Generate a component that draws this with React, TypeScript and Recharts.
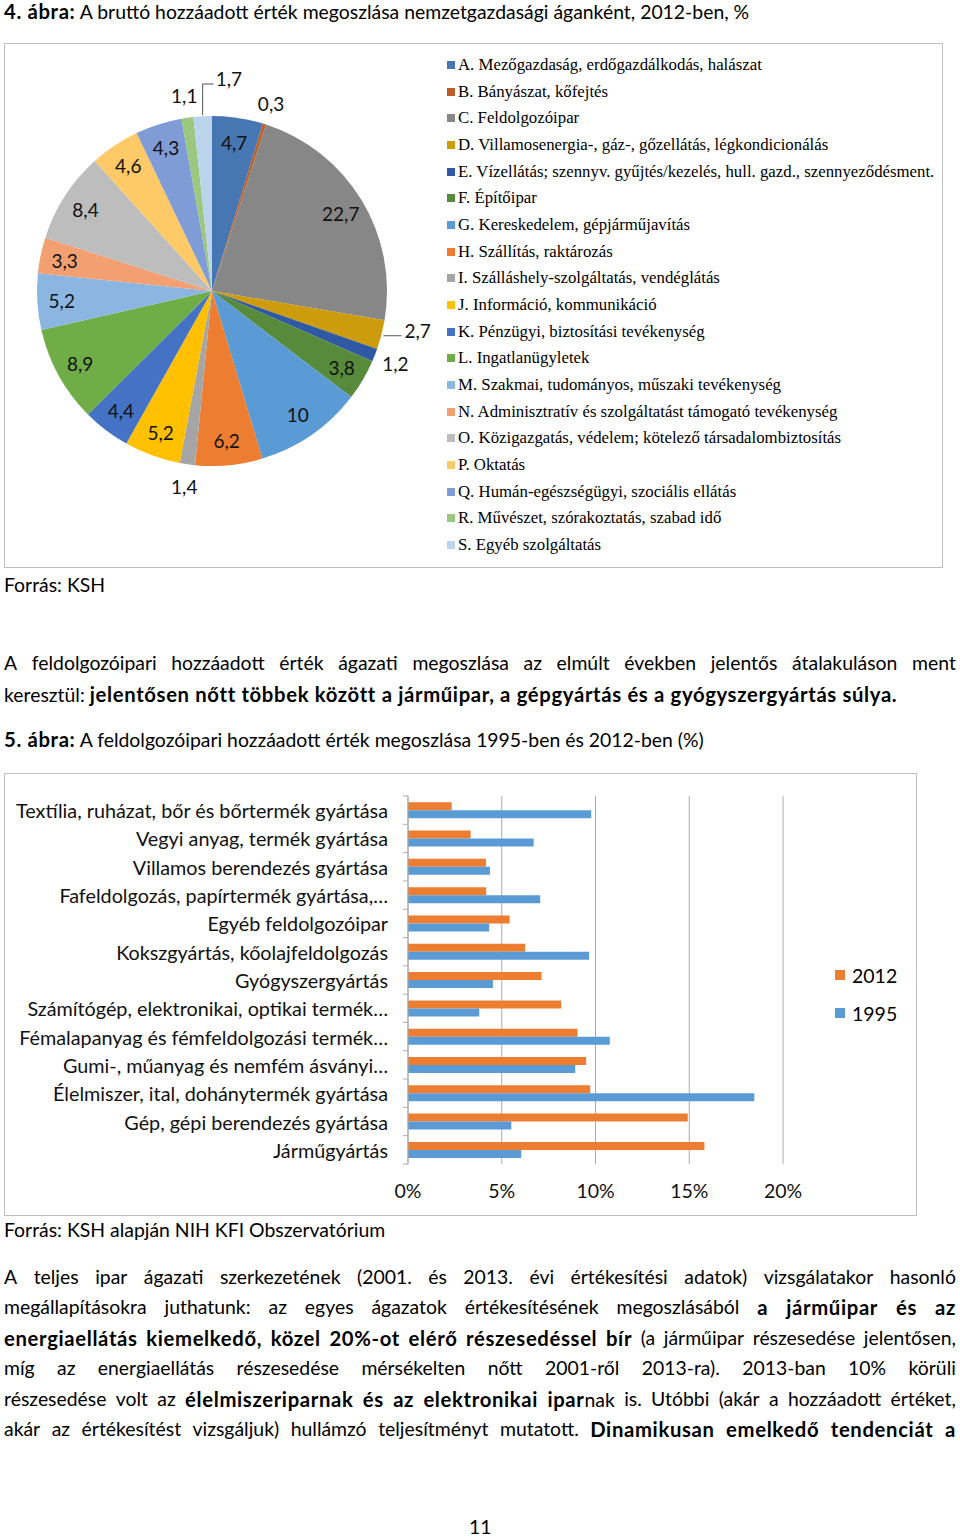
import React from "react";
import { PieChart, Pie, Cell, Legend, BarChart, Bar, XAxis, YAxis, CartesianGrid } from "recharts";

const FONT = "Lato, 'Open Sans', sans-serif";
const SERIF = "'Liberation Serif', 'DejaVu Serif', serif";

// 4. ábra – nemzetgazdasági ágak, 2012
const SECTORS = [
  "A. Mezőgazdaság, erdőgazdálkodás, halászat",
  "B. Bányászat, kőfejtés",
  "C. Feldolgozóipar",
  "D. Villamosenergia-, gáz-, gőzellátás, légkondicionálás",
  "E. Vízellátás; szennyv. gyűjtés/kezelés, hull. gazd., szennyeződésment.",
  "F. Építőipar",
  "G. Kereskedelem, gépjárműjavítás",
  "H. Szállítás, raktározás",
  "I. Szálláshely-szolgáltatás, vendéglátás",
  "J. Információ, kommunikáció",
  "K. Pénzügyi, biztosítási tevékenység",
  "L. Ingatlanügyletek",
  "M. Szakmai, tudományos, műszaki tevékenység",
  "N. Adminisztratív és szolgáltatást támogató tevékenység",
  "O. Közigazgatás, védelem; kötelező társadalombiztosítás",
  "P. Oktatás",
  "Q. Humán-egészségügyi, szociális ellátás",
  "R. Művészet, szórakoztatás, szabad idő",
  "S. Egyéb szolgáltatás",
];
const SECTOR_SHARE = [4.7, 0.3, 22.7, 2.7, 1.2, 3.8, 10, 6.2, 1.4, 5.2, 4.4, 8.9, 5.2, 3.3, 8.4, 4.6, 4.3, 1.1, 1.7];
const SECTOR_COLORS = [
  "#4677b2", "#bd5f25", "#878787", "#cc9c0c", "#3059a3", "#578a3a",
  "#5b9bd5", "#ed7d31", "#a5a5a5", "#ffc000", "#4472c4", "#70ad47",
  "#8cb6e2", "#f2a072", "#bdbdbd", "#fdca67", "#7f9cd7", "#9bc77e", "#bcd3ec",
];
// slices whose labels Excel pulled out with a leader line
const LEADER_SLICES = [3, 18];

// 5. ábra – feldolgozóipar, 1995 / 2012
const BRANCHES = [
  "Textília, ruházat, bőr és bőrtermék gyártása",
  "Vegyi anyag, termék gyártása",
  "Villamos berendezés gyártása",
  "Fafeldolgozás, papírtermék gyártása,…",
  "Egyéb feldolgozóipar",
  "Kokszgyártás, kőolajfeldolgozás",
  "Gyógyszergyártás",
  "Számítógép, elektronikai, optikai termék…",
  "Fémalapanyag és fémfeldolgozási termék…",
  "Gumi-, műanyag és nemfém ásványi…",
  "Élelmiszer, ital, dohánytermék gyártása",
  "Gép, gépi berendezés gyártása",
  "Járműgyártás",
];
const SHARE_2012 = [2.33, 3.34, 4.16, 4.17, 5.42, 6.25, 7.12, 8.17, 9.04, 9.5, 9.72, 14.92, 15.81];
const SHARE_1995 = [9.77, 6.7, 4.37, 7.05, 4.33, 9.66, 4.53, 3.8, 10.76, 8.92, 18.47, 5.51, 6.04];
const PCT_TICKS = [0, 5, 10, 15, 20];
const YEARS = ["2012", "1995"];
const YEAR_COLORS = ["#ed7d31", "#5b9bd5"];

type Seg = [string, boolean];

const PARA1: Seg[][] = [
  [["A feldolgozóipari hozzáadott érték ágazati megoszlása az elmúlt években jelentős átalakuláson ment", false]],
  [["keresztül: ", false], ["jelentősen nőtt többek között a járműipar, a gépgyártás és a gyógyszergyártás súlya.", true]],
];
const PARA2: Seg[][] = [
  [["A teljes ipar ágazati szerkezetének (2001. és 2013. évi értékesítési adatok) vizsgálatakor hasonló", false]],
  [["megállapításokra juthatunk: az egyes ágazatok értékesítésének megoszlásából ", false], ["a járműipar és az", true]],
  [["energiaellátás kiemelkedő, közel 20%-ot elérő részesedéssel bír", true], [" (a járműipar részesedése jelentősen,", false]],
  [["míg az energiaellátás részesedése mérsékelten nőtt 2001-ről 2013-ra). 2013-ban 10% körüli", false]],
  [["részesedése volt az ", false], ["élelmiszeriparnak és az elektronikai ipar", true], ["nak is. Utóbbi (akár a hozzáadott értéket,", false]],
  [["akár az értékesítést vizsgáljuk) hullámzó teljesítményt mutatott. ", false], ["Dinamikusan emelkedő tendenciát a", true]],
];

const pieData = SECTORS.map((name, i) => ({ name, value: SECTOR_SHARE[i], fill: SECTOR_COLORS[i] }));
const barData = BRANCHES.map((name, i) => ({ name, y2012: SHARE_2012[i], y1995: SHARE_1995[i] }));

const TXT = 19.4;
const boldStyle: React.CSSProperties = { fontWeight: 700, fontSize: 20.3, letterSpacing: 0.65 };

function splitWords(line: Seg[]) {
  const out: Seg[][] = [[]];
  for (const [t, b] of line) {
    t.split(" ").forEach((p, i) => {
      if (i > 0) out.push([]);
      if (p) out[out.length - 1].push([p, b]);
    });
  }
  return out.filter((w) => w.length);
}

function Piece({ t, b }: { t: string; b: boolean }) {
  return <span style={b ? boldStyle : { fontWeight: 400 }}>{t}</span>;
}

function TextLine({ line, y, justify }: { line: Seg[]; y: number; justify?: boolean }) {
  const h = Math.min(30, 2 * y);
  const base: React.CSSProperties = {
    position: "absolute", left: 4, top: y - h / 2, height: h, lineHeight: `${h}px`,
    fontFamily: FONT, fontSize: TXT, color: "#000", whiteSpace: "pre",
  };
  if (justify) {
    return (
      <div style={{ ...base, width: 952, display: "flex", justifyContent: "space-between" }}>
        {splitWords(line).map((w, i) => (
          <span key={i}>
            {w.map(([t, b], j) => <Piece key={j} t={t} b={b} />)}
          </span>
        ))}
      </div>
    );
  }
  return (
    <div style={base}>
      {line.map(([t, b], j) => <Piece key={j} t={t} b={b} />)}
    </div>
  );
}

const RAD = Math.PI / 180;

function pieLabel(props: any) {
  const { cx, cy, midAngle, outerRadius, value, index } = props;
  const cos = Math.cos(-midAngle * RAD);
  const sin = Math.sin(-midAngle * RAD);
  const text = String(value).replace(".", ",");
  const style = { fontFamily: FONT, fontSize: 19, fill: "#111" };
  if (LEADER_SLICES.includes(index)) {
    const ex = cx + outerRadius * cos;
    const ey = cy + outerRadius * sin;
    if (Math.abs(cos) > 0.7) {
      const dir = cos > 0 ? 1 : -1;
      return (
        <g>
          <path d={`M${ex + dir * 2},${ey + 1}L${ex + dir * 20},${ey + 1}`} stroke="#555" fill="none" />
          <text x={ex + dir * 23} y={ey - 4} textAnchor={dir > 0 ? "start" : "end"} dominantBaseline="central" style={style}>{text}</text>
        </g>
      );
    }
    const top = cy - outerRadius - 32;
    return (
      <g>
        <path d={`M${ex},${ey - 1}L${ex},${top}L${ex + 11},${top}`} stroke="#555" fill="none" />
        <text x={ex + 13} y={top - 6} textAnchor="start" dominantBaseline="central" style={style}>{text}</text>
      </g>
    );
  }
  const r = value >= 3 ? outerRadius * 0.86 : outerRadius + 22;
  return (
    <text x={cx + r * cos} y={cy + r * sin} textAnchor="middle" dominantBaseline="central" style={style}>{text}</text>
  );
}

function PieLegend() {
  return (
    <div style={{ fontFamily: SERIF, fontSize: 16.8, color: "#000" }}>
      {SECTORS.map((s, i) => (
        <div key={s} style={{ height: 26.67, display: "flex", alignItems: "center", whiteSpace: "nowrap" }}>
          <span style={{ width: 8, height: 8, background: SECTOR_COLORS[i], marginRight: 3, flex: "none" }} />
          {s}
        </div>
      ))}
    </div>
  );
}

function BarLegend() {
  return (
    <div style={{ fontFamily: FONT, fontSize: 19.5, color: "#000" }}>
      {YEARS.map((y, i) => (
        <div key={y} style={{ height: 38, display: "flex", alignItems: "center" }}>
          <span style={{ width: 10, height: 10, background: YEAR_COLORS[i], marginRight: 7, flex: "none" }} />
          {y}
        </div>
      ))}
    </div>
  );
}

function CategoryTick(props: any) {
  const { x, y, payload, index } = props;
  const axisX = x + 8;
  const off = payload.offset ?? 14.14;
  return (
    <g>
      <line x1={axisX - 5} x2={axisX} y1={y - off} y2={y - off} stroke="#aaa" />
      {index === BRANCHES.length - 1 && <line x1={axisX - 5} x2={axisX} y1={y + off} y2={y + off} stroke="#aaa" />}
      <text x={axisX - 20} y={y} textAnchor="end" dominantBaseline="central" style={{ fontFamily: FONT, fontSize: 19.8, fill: "#111" }}>
        {payload.value}
      </text>
    </g>
  );
}

export default function App() {
  return (
    <div style={{ position: "relative", width: 960, height: 1537, background: "#fff", overflow: "hidden" }}>
      <style>{"html,body{margin:0;padding:0;}"}</style>
      <TextLine y={11} line={[["4. ábra:", true], [" A bruttó hozzáadott érték megoszlása nemzetgazdasági áganként, 2012-ben, %", false]]} />

      <div style={{ position: "absolute", left: 4, top: 43, width: 939, height: 525, border: "1px solid #bfbfbf", boxSizing: "border-box" }}>
        <PieChart width={937} height={523} margin={{ top: 0, right: 0, bottom: 0, left: 0 }}>
          <Pie
            data={pieData}
            dataKey="value"
            nameKey="name"
            cx={207}
            cy={247}
            outerRadius={175}
            startAngle={90}
            endAngle={-270}
            stroke="none"
            label={pieLabel}
            labelLine={false}
            isAnimationActive={false}
          >
            {pieData.map((d) => (
              <Cell key={d.name} fill={d.fill} />
            ))}
          </Pie>
          <Legend
            layout="vertical"
            align="center"
            verticalAlign="middle"
            content={() => <PieLegend />}
            wrapperStyle={{ left: 442, top: 7.7, width: 490, height: 510 }}
          />
        </PieChart>
      </div>

      <TextLine y={585} line={[["Forrás: KSH", false]]} />
      <TextLine y={663} line={PARA1[0]} justify />
      <TextLine y={694} line={PARA1[1]} />
      <TextLine y={739} line={[["5. ábra:", true], [" A feldolgozóipari hozzáadott érték megoszlása 1995-ben és 2012-ben (%)", false]]} />

      <div style={{ position: "absolute", left: 4, top: 773, width: 913, height: 443, border: "1px solid #bfbfbf", boxSizing: "border-box" }}>
        <BarChart
          width={911}
          height={441}
          data={barData}
          layout="vertical"
          margin={{ top: 22, right: 133, bottom: 0, left: 0 }}
          barCategoryGap="22%"
          barGap={0}
        >
          <CartesianGrid horizontal={false} stroke="#aaa" />
          <XAxis
            type="number"
            domain={[0, 20]}
            ticks={PCT_TICKS}
            tickFormatter={(v) => `${v}%`}
            axisLine={false}
            tickLine={false}
            height={51}
            tickMargin={14}
            tick={{ fontFamily: FONT, fontSize: 19.5, fill: "#111" }}
          />
          <YAxis
            type="category"
            dataKey="name"
            width={403}
            axisLine={{ stroke: "#aaa" }}
            tickLine={false}
            interval={0}
            tick={<CategoryTick />}
          />
          <Bar dataKey="y2012" name="2012" fill={YEAR_COLORS[0]} isAnimationActive={false} />
          <Bar dataKey="y1995" name="1995" fill={YEAR_COLORS[1]} isAnimationActive={false} />
          <Legend
            layout="vertical"
            align="center"
            verticalAlign="middle"
            content={() => <BarLegend />}
            wrapperStyle={{ left: 830, top: 182, width: 80, height: 76 }}
          />
        </BarChart>
      </div>

      <TextLine y={1230} line={[["Forrás: KSH alapján NIH KFI Obszervatórium", false]]} />
      {PARA2.map((l, i) => (
        <TextLine key={i} y={1277 + i * 30.4} line={l} justify />
      ))}
      <div style={{ position: "absolute", left: 469, top: 1512, height: 30, lineHeight: "30px", fontFamily: FONT, fontSize: TXT, color: "#000" }}>11</div>
    </div>
  );
}
